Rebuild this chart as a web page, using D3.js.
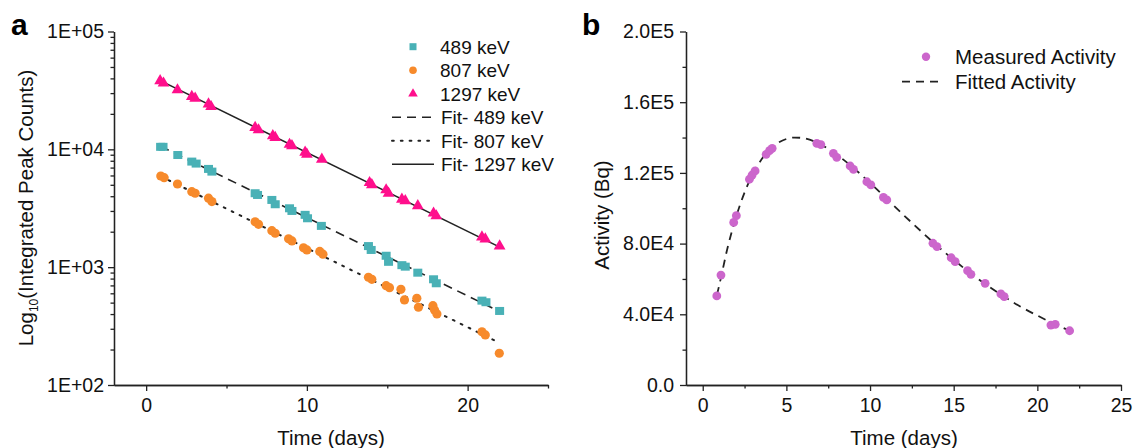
<!DOCTYPE html>
<html>
<head>
<meta charset="utf-8">
<script src="https://cdn.jsdelivr.net/npm/d3@7"></script>
<style>
  body { margin: 0; background: #fff; }
  svg { display: block; font-family: "Liberation Sans", Arial, sans-serif; }
  .axis path, .axis line { stroke: #222; stroke-width: 1.3; }
  .axis text { font-size: 19.5px; fill: #111; font-family: "Liberation Sans", Arial, sans-serif; }
  .title { font-size: 20.5px; fill: #111; }
</style>
</head>
<body>
<svg class="chart" width="1133" height="448"></svg>
<script>
// ---- panel a: peak counts per gamma line
const days489 = [0.9, 1.05, 1.97, 2.84, 3.11, 3.88, 4.09, 6.78, 6.93, 7.82, 8.03, 8.92, 9.07, 9.89, 10.04, 10.9, 13.83, 14.0, 14.93, 15.08, 15.91, 16.12, 16.9, 17.88, 18.05, 20.89, 21.14, 21.99];
const counts489 = [10500, 10500, 8950, 7870, 7570, 6820, 6470, 4240, 4100, 3720, 3420, 3160, 3000, 2780, 2600, 2240, 1510, 1400, 1250, 1110, 1040, 1010, 898, 789, 730, 520, 504, 425];

const days807 = [0.91, 1.12, 1.95, 2.84, 3.05, 3.88, 4.09, 6.78, 6.99, 7.82, 8.03, 8.86, 9.07, 9.79, 10.0, 10.8, 11.0, 13.83, 14.04, 14.93, 15.14, 15.85, 16.07, 16.84, 16.94, 17.84, 17.94, 18.09, 20.89, 21.1, 21.97];
const counts807 = [5940, 5750, 5080, 4370, 4240, 3850, 3600, 2430, 2310, 2040, 1940, 1740, 1670, 1460, 1400, 1360, 1290, 821, 789, 697, 670, 649, 527, 545, 457, 471, 433, 401, 283, 266, 186];

const days1297 = [0.87, 1.08, 1.95, 2.84, 3.05, 3.88, 4.04, 6.78, 6.99, 7.88, 8.03, 8.92, 9.07, 9.89, 10.0, 10.93, 13.9, 14.04, 14.93, 15.08, 15.91, 16.12, 16.9, 17.88, 18.05, 20.89, 21.1, 21.99];
const counts1297 = [38100, 36400, 31900, 28000, 27100, 24200, 23000, 15300, 14600, 13000, 12600, 11000, 10700, 9450, 9080, 8240, 5210, 4990, 4520, 4240, 3770, 3650, 3310, 2870, 2720, 1800, 1730, 1510];

// fit lines (straight on the log axis) - end points
const fitDays489 = [0.9, 22];
const fitCounts489 = [10600, 420];
const fitDays807 = [0.9, 21.7];
const fitCounts807 = [5900, 238];
const fitDays1297 = [0.85, 22];
const fitCounts1297 = [38500, 1480];

const aYTicks = [1e2, 1e3, 1e4, 1e5];
const aYLabels = ["1E+02", "1E+03", "1E+04", "1E+05"];
const aXTicks = [0, 10, 20];
const aXMinor = [5, 15, 25];

// ---- panel b: activity
const daysB = [0.84, 1.09, 1.85, 2.01, 2.79, 2.95, 3.13, 3.79, 3.99, 4.15, 6.82, 7.06, 7.81, 8.01, 8.81, 9.01, 9.81, 10.05, 10.8, 11.0, 13.76, 14.0, 14.85, 15.09, 15.83, 16.03, 16.88, 17.82, 18.02, 20.81, 21.07, 21.93];
const activityB = [50400, 62200, 92000, 95800, 116400, 118800, 121100, 130500, 132600, 133900, 136700, 136000, 131100, 128800, 123900, 122000, 115000, 113200, 106200, 104700, 80200, 78300, 72000, 69800, 64700, 62600, 57500, 51500, 50000, 33900, 34300, 30700];

const fitDaysB = [0.85, 1, 1.5, 2, 2.5, 3, 3.5, 4, 4.5, 5, 5.5, 6, 7, 8, 9, 10, 11, 12, 13, 14, 15, 16, 17, 18, 19, 20, 21, 22];
const fitActivityB = [51000, 57000, 78200, 95300, 108900, 119500, 127400, 133200, 137000, 139200, 140000, 139700, 136300, 130400, 122900, 114300, 105300, 96200, 87400, 78800, 70800, 63300, 56400, 50100, 44300, 39300, 34600, 30500];

const bYTicks = [0, 4e4, 8e4, 1.2e5, 1.6e5, 2e5];
const bYLabels = ["0.0", "4.0E4", "8.0E4", "1.2E5", "1.6E5", "2.0E5"];
const bYMinor = [2e4, 6e4, 1e5, 1.4e5, 1.8e5];
const bXTicks = [0, 5, 10, 15, 20, 25];
const bXMinor = [2.5, 7.5, 12.5, 17.5, 22.5];

const colors = { c489: '#49b1b6', c807: '#f78a2b', c1297: '#ff0f8c', act: '#cc66cc' };

const svg = d3.select('svg.chart');
const zip = (xs, ys) => xs.map((x, i) => ({ x, y: ys[i] }));

// axis helper: major ticks with labels + minor ticks without
const drawAxes = (g, x, y, opt) => {
    const bottom = y.range()[0];
    g.append('g').attr('class', 'axis')
        .attr('transform', `translate(0,${bottom})`)
        .call(d3.axisBottom(x).tickValues(opt.xMinor).tickSize(3.5).tickSizeOuter(0).tickFormat(''));
    g.append('g').attr('class', 'axis')
        .attr('transform', `translate(0,${bottom})`)
        .call(d3.axisBottom(x).tickValues(opt.xTicks).tickSize(6).tickSizeOuter(0).tickPadding(7));
    const left = x.range()[0];
    g.append('g').attr('class', 'axis')
        .attr('transform', `translate(${left},0)`)
        .call(d3.axisLeft(y).tickValues(opt.yMinor).tickSize(3.5).tickSizeOuter(0).tickFormat(''));
    g.append('g').attr('class', 'axis')
        .attr('transform', `translate(${left},0)`)
        .call(d3.axisLeft(y).tickValues(opt.yTicks).tickSize(6).tickSizeOuter(0)
            .tickPadding(opt.yPad).tickFormat((d, i) => opt.yLabels[i]));
};

// ================= panel a
const xA = d3.scaleLinear().domain([-2, 25]).range([114, 548]);
const yA = d3.scaleLog().domain([1e2, 1e5]).range([385, 31.5]);

const gA = svg.append('g');

// minor log ticks 2..9 per decade
const aYMinor = yA.ticks().filter(d => aYTicks.indexOf(d) < 0);

const lineA = d3.line().x(d => xA(d.x)).y(d => yA(d.y));

const fits = [
    { pts: zip(fitDays489, fitCounts489), dash: '9,6', w: 1.6 },
    { pts: zip(fitDays807, fitCounts807), dash: '1.8,7', w: 2 },
    { pts: zip(fitDays1297, fitCounts1297), dash: null, w: 1.6 }
];
fits.forEach(f => {
    gA.append('path')
        .attr('d', lineA(f.pts))
        .attr('fill', 'none')
        .attr('stroke', '#222')
        .attr('stroke-width', f.w)
        .attr('stroke-linecap', f.dash === '1.8,7' ? 'round' : 'butt')
        .attr('stroke-dasharray', f.dash);
});

gA.selectAll('rect.p489').data(zip(days489, counts489))
    .enter().append('rect')
        .attr('class', 'p489')
        .attr('x', d => xA(d.x) - 4.5)
        .attr('y', d => yA(d.y) - 4)
        .attr('width', 9)
        .attr('height', 8)
        .attr('fill', colors.c489);

gA.selectAll('circle.p807').data(zip(days807, counts807))
    .enter().append('circle')
        .attr('class', 'p807')
        .attr('cx', d => xA(d.x))
        .attr('cy', d => yA(d.y))
        .attr('r', 4.6)
        .attr('fill', colors.c807);

const tri = d3.symbol().type(d3.symbolTriangle).size(60);
gA.selectAll('path.p1297').data(zip(days1297, counts1297))
    .enter().append('path')
        .attr('class', 'p1297')
        .attr('transform', d => `translate(${xA(d.x)},${yA(d.y)})`)
        .attr('d', tri)
        .attr('fill', colors.c1297);

drawAxes(gA, xA, yA, {
    xTicks: aXTicks, xMinor: aXMinor,
    yTicks: aYTicks, yMinor: aYMinor, yLabels: aYLabels, yPad: 4
});

const aTitle = gA.append('text')
    .attr('class', 'title')
    .attr('transform', 'translate(33,208) rotate(-90)')
    .attr('text-anchor', 'middle');
aTitle.append('tspan').text('Log');
aTitle.append('tspan').attr('font-size', '12px').attr('dy', 5).text('10');
aTitle.append('tspan').attr('dy', -5).text('(Integrated Peak Counts)');

gA.append('text').attr('class', 'title')
    .attr('x', 331).attr('y', 445)
    .attr('text-anchor', 'middle')
    .text('Time (days)');

gA.append('text')
    .attr('x', 11).attr('y', 35)
    .attr('font-size', '30px').attr('font-weight', 'bold')
    .text('a');

// legend a
const legA = gA.append('g').attr('transform', 'translate(392,0)');
const legRows = [
    { label: '489 keV', kind: 'square' },
    { label: '807 keV', kind: 'circle' },
    { label: '1297 keV', kind: 'triangle' },
    { label: 'Fit- 489 keV', kind: 'line', dash: '9,6' },
    { label: 'Fit- 807 keV', kind: 'line', dash: '1.8,7' },
    { label: 'Fit- 1297 keV', kind: 'line', dash: null }
];
legRows.forEach((r, i) => {
    const cy = 46.7 + i * 23.5;
    if (r.kind === 'square') {
        legA.append('rect').attr('x', 17.5).attr('y', cy - 3.5).attr('width', 7).attr('height', 7).attr('fill', colors.c489);
    } else if (r.kind === 'circle') {
        legA.append('circle').attr('cx', 21).attr('cy', cy).attr('r', 3.8).attr('fill', colors.c807);
    } else if (r.kind === 'triangle') {
        legA.append('path').attr('transform', `translate(21,${cy})`)
            .attr('d', d3.symbol().type(d3.symbolTriangle).size(40)).attr('fill', colors.c1297);
    } else {
        legA.append('line').attr('x1', 0).attr('x2', 42).attr('y1', cy).attr('y2', cy)
            .attr('stroke', '#222').attr('stroke-width', r.dash === '1.8,7' ? 2 : 1.6)
            .attr('stroke-linecap', r.dash === '1.8,7' ? 'round' : 'butt')
            .attr('stroke-dasharray', r.dash);
    }
    legA.append('text')
        .attr('x', r.kind === 'line' ? 49 : 48)
        .attr('y', cy + 7)
        .attr('font-size', '19px')
        .attr('fill', '#111')
        .text(r.label);
});

// ================= panel b
const xB = d3.scaleLinear().domain([-1, 25]).range([686, 1121]);
const yB = d3.scaleLinear().domain([0, 2e5]).range([385, 31.5]);

const gB = svg.append('g');

gB.append('path')
    .attr('d', d3.line().x(d => xB(d.x)).y(d => yB(d.y)).curve(d3.curveMonotoneX)(zip(fitDaysB, fitActivityB)))
    .attr('fill', 'none')
    .attr('stroke', '#222')
    .attr('stroke-width', 1.8)
    .attr('stroke-dasharray', '8,6');

gB.selectAll('circle').data(zip(daysB, activityB))
    .enter().append('circle')
        .attr('cx', d => xB(d.x))
        .attr('cy', d => yB(d.y))
        .attr('r', 4.4)
        .attr('fill', colors.act);

drawAxes(gB, xB, yB, {
    xTicks: bXTicks, xMinor: bXMinor,
    yTicks: bYTicks, yMinor: bYMinor, yLabels: bYLabels, yPad: 6
});

gB.append('text').attr('class', 'title')
    .attr('transform', 'translate(609,215) rotate(-90)')
    .attr('text-anchor', 'middle')
    .text('Activity (Bq)');

gB.append('text').attr('class', 'title')
    .attr('x', 904).attr('y', 445)
    .attr('text-anchor', 'middle')
    .text('Time (days)');

gB.append('text')
    .attr('x', 582).attr('y', 35)
    .attr('font-size', '30px').attr('font-weight', 'bold')
    .text('b');

// legend b
const legB = gB.append('g');
legB.append('circle').attr('cx', 926).attr('cy', 56.7).attr('r', 4.2).attr('fill', colors.act);
legB.append('text').attr('x', 955).attr('y', 64).attr('font-size', '20.5px').attr('fill', '#111').text('Measured Activity');
legB.append('line').attr('x1', 902).attr('x2', 944).attr('y1', 81.7).attr('y2', 81.7)
    .attr('stroke', '#222').attr('stroke-width', 1.8).attr('stroke-dasharray', '8,6');
legB.append('text').attr('x', 955).attr('y', 89).attr('font-size', '20.5px').attr('fill', '#111').text('Fitted Activity');
</script>
</body>
</html>
